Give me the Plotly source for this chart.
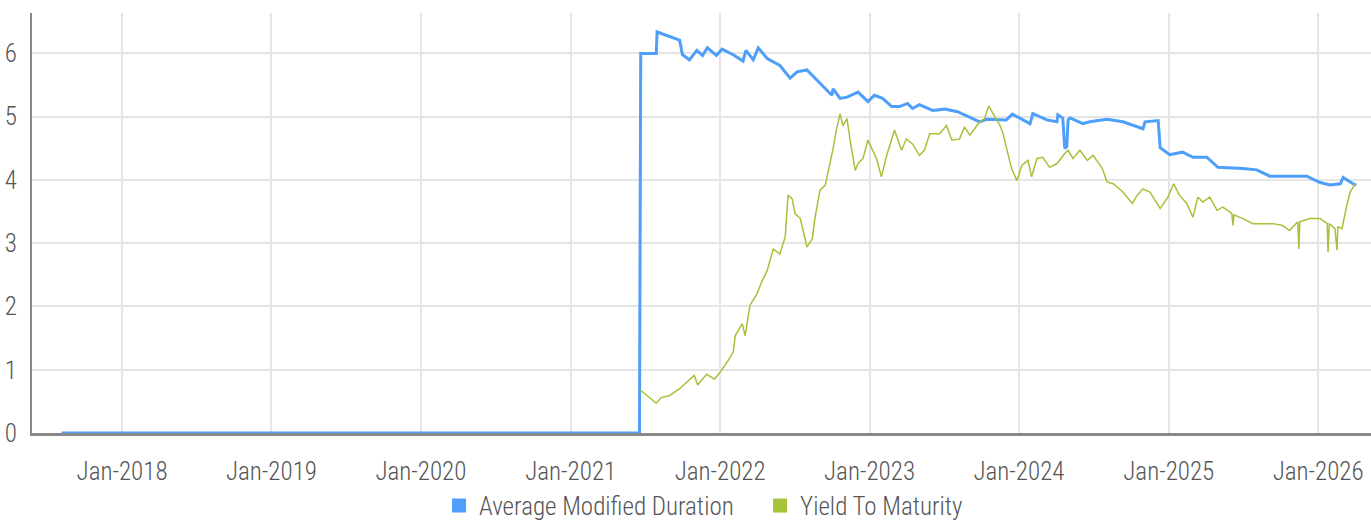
import plotly.graph_objects as go

# Average Modified Duration
amd_dates = [
    "2017-08-06", "2021-06-18", "2021-06-21", "2021-07-29", "2021-07-31", "2021-08-30",
    "2021-09-24", "2021-10-01", "2021-10-18", "2021-11-05", "2021-11-19", "2021-12-01",
    "2021-12-23", "2022-01-06", "2022-02-02", "2022-02-26", "2022-03-05", "2022-03-23",
    "2022-04-04", "2022-04-26", "2022-05-27", "2022-06-21", "2022-07-08", "2022-08-01",
    "2022-09-02", "2022-10-01", "2022-10-04", "2022-10-21", "2022-11-07", "2022-12-04",
    "2022-12-28", "2023-01-13", "2023-02-02", "2023-02-24", "2023-03-15", "2023-04-04",
    "2023-04-16", "2023-05-03", "2023-06-04", "2023-07-03", "2023-08-04", "2023-08-26",
    "2023-09-27", "2023-10-14", "2023-11-07", "2023-12-01", "2023-12-16", "2024-01-28",
    "2024-02-04", "2024-03-09", "2024-04-03", "2024-04-05", "2024-04-17", "2024-04-22",
    "2024-04-27", "2024-04-30", "2024-05-05", "2024-06-05", "2024-06-22", "2024-08-03",
    "2024-09-11", "2024-10-30", "2024-11-04", "2024-12-06", "2024-12-11", "2025-01-03",
    "2025-02-04", "2025-03-01", "2025-04-04", "2025-05-01", "2025-07-01", "2025-08-04",
    "2025-09-05", "2025-10-06", "2025-12-04", "2026-01-06", "2026-01-30", "2026-02-24",
    "2026-03-03", "2026-03-27", "2026-04-04",
]
amd_values = [
    0.0, 0.0, 6.00, 6.00, 6.34, 6.27,
    6.21, 5.98, 5.90, 6.05, 5.97, 6.09,
    5.97, 6.07, 5.98, 5.88, 6.05, 5.90,
    6.09, 5.92, 5.81, 5.61, 5.71, 5.74,
    5.53, 5.34, 5.44, 5.29, 5.31, 5.39,
    5.24, 5.34, 5.29, 5.16, 5.16, 5.21,
    5.13, 5.19, 5.10, 5.12, 5.08, 5.02,
    4.92, 4.96, 4.95, 4.95, 5.04, 4.89,
    5.05, 4.95, 4.92, 5.03, 4.98, 4.50,
    4.53, 4.95, 4.98, 4.89, 4.92, 4.96,
    4.92, 4.81, 4.92, 4.94, 4.51, 4.40,
    4.44, 4.36, 4.36, 4.20, 4.18, 4.16,
    4.06, 4.06, 4.06, 3.96, 3.92, 3.94,
    4.04, 3.94, 3.92,
]

# Yield To Maturity
ytm_dates = [
    "2021-06-20", "2021-07-29", "2021-08-10", "2021-08-30", "2021-09-24", "2021-10-18",
    "2021-10-30", "2021-11-07", "2021-11-29", "2021-12-18", "2022-01-01", "2022-01-20",
    "2022-02-02", "2022-02-07", "2022-02-24", "2022-03-03", "2022-03-15", "2022-04-01",
    "2022-04-14", "2022-04-26", "2022-05-11", "2022-05-27", "2022-06-09", "2022-06-16",
    "2022-06-26", "2022-07-03", "2022-07-16", "2022-08-01", "2022-08-14", "2022-08-21",
    "2022-09-02", "2022-09-15", "2022-09-22", "2022-10-04", "2022-10-11", "2022-10-21",
    "2022-10-28", "2022-11-07", "2022-11-14", "2022-11-27", "2022-12-04", "2022-12-16",
    "2022-12-28", "2023-01-18", "2023-01-30", "2023-02-12", "2023-03-03", "2023-03-20",
    "2023-04-01", "2023-04-16", "2023-05-03", "2023-05-15", "2023-05-28", "2023-06-21",
    "2023-07-08", "2023-07-21", "2023-08-09", "2023-08-21", "2023-09-03", "2023-09-27",
    "2023-10-09", "2023-10-19", "2023-11-03", "2023-11-15", "2023-11-22", "2023-12-05",
    "2023-12-14", "2023-12-27", "2024-01-08", "2024-01-23", "2024-02-01", "2024-02-14",
    "2024-02-28", "2024-03-16", "2024-04-03", "2024-04-22", "2024-04-30", "2024-05-12",
    "2024-05-29", "2024-06-16", "2024-06-30", "2024-07-23", "2024-08-03", "2024-08-18",
    "2024-09-11", "2024-10-04", "2024-10-16", "2024-10-30", "2024-11-16", "2024-12-11",
    "2024-12-30", "2025-01-13", "2025-01-27", "2025-02-14", "2025-03-01", "2025-03-13",
    "2025-03-25", "2025-04-11", "2025-04-29", "2025-05-13", "2025-06-04", "2025-06-07",
    "2025-06-09", "2025-07-01", "2025-07-26", "2025-08-19", "2025-09-13", "2025-10-06",
    "2025-10-23", "2025-11-12", "2025-11-15", "2025-11-17", "2025-12-12", "2026-01-06",
    "2026-01-23", "2026-01-25", "2026-01-28", "2026-02-11", "2026-02-16", "2026-02-18",
    "2026-02-28", "2026-03-12", "2026-03-20", "2026-04-01",
]
ytm_values = [
    0.68, 0.47, 0.56, 0.59, 0.70, 0.85,
    0.91, 0.76, 0.93, 0.85, 0.96, 1.14,
    1.28, 1.54, 1.73, 1.54, 2.02, 2.20,
    2.41, 2.57, 2.91, 2.83, 3.10, 3.76,
    3.70, 3.47, 3.39, 2.94, 3.07, 3.41,
    3.84, 3.92, 4.13, 4.50, 4.76, 5.05,
    4.86, 4.97, 4.65, 4.15, 4.26, 4.34,
    4.63, 4.34, 4.05, 4.39, 4.79, 4.47,
    4.65, 4.57, 4.39, 4.47, 4.73, 4.73,
    4.86, 4.63, 4.65, 4.84, 4.71, 4.92,
    4.97, 5.17, 5.00, 4.87, 4.76, 4.44,
    4.18, 3.99, 4.23, 4.31, 4.05, 4.34,
    4.36, 4.20, 4.26, 4.42, 4.47, 4.34,
    4.47, 4.31, 4.39, 4.18, 3.97, 3.94,
    3.81, 3.63, 3.76, 3.86, 3.81, 3.55,
    3.73, 3.94, 3.76, 3.63, 3.41, 3.73,
    3.65, 3.73, 3.52, 3.57, 3.47, 3.28,
    3.45, 3.39, 3.31, 3.31, 3.31, 3.28,
    3.20, 3.34, 2.91, 3.34, 3.39, 3.39,
    3.31, 2.86, 3.31, 3.23, 2.89, 3.26,
    3.23, 3.60, 3.81, 3.94,
]

tick_dates = ["2018-01-01", "2019-01-01", "2020-01-01", "2021-01-01", "2022-01-01",
              "2023-01-01", "2024-01-01", "2025-01-01", "2026-01-01"]
tick_labels = ["Jan-2018", "Jan-2019", "Jan-2020", "Jan-2021", "Jan-2022",
               "Jan-2023", "Jan-2024", "Jan-2025", "Jan-2026"]

BLUE = "#4d9ffa"
GREEN = "#a6c13a"
FONT = "Roboto Condensed, Liberation Sans Narrow, DejaVu Sans Condensed, sans-serif"

fig = go.Figure()
fig.add_trace(go.Scatter(x=amd_dates, y=amd_values, mode="lines",
                         line=dict(color=BLUE, width=3), showlegend=False,
                         name="Average Modified Duration"))
fig.add_trace(go.Scatter(x=ytm_dates, y=ytm_values, mode="lines",
                         line=dict(color=GREEN, width=1.5), showlegend=False,
                         name="Yield To Maturity"))
fig.add_trace(go.Scatter(x=[None], y=[None], mode="markers", name="Average Modified Duration",
                         marker=dict(symbol="square", size=14, color=BLUE)))
fig.add_trace(go.Scatter(x=[None], y=[None], mode="markers", name="Yield To Maturity",
                         marker=dict(symbol="square", size=14, color=GREEN)))

fig.update_layout(
    width=1371, height=522,
    margin=dict(l=32, r=0, t=13, b=89),
    plot_bgcolor="white", paper_bgcolor="white",
    font=dict(family=FONT, size=25, color="#555555", weight=300),
    legend=dict(orientation="h", x=0.304, xanchor="left",
                yref="container", y=0.031, yanchor="middle",
                entrywidth=276, entrywidthmode="pixels",
                font=dict(size=25, color="#555555", weight=300), itemwidth=30, tracegroupgap=0),
    xaxis=dict(type="date", range=["2017-05-26", "2026-05-10"],
               tickvals=tick_dates, ticktext=tick_labels,
               showgrid=True, gridcolor="#e5e5e5", gridwidth=2,
               showline=True, linecolor="#888888", linewidth=3,
               ticks="", ticklabelstandoff=14, zeroline=False, automargin=False),
    yaxis=dict(range=[0, 6.64], tickvals=[0, 1, 2, 3, 4, 5, 6],
               showgrid=True, gridcolor="#e5e5e5", gridwidth=2,
               showline=True, linecolor="#888888", linewidth=2,
               ticks="", ticklabelstandoff=8, zeroline=False, automargin=False),
)

fig.write_html("out.html", config={"displayModeBar": False},
               post_script="document.body.style.margin='0';document.body.style.padding='0';")
